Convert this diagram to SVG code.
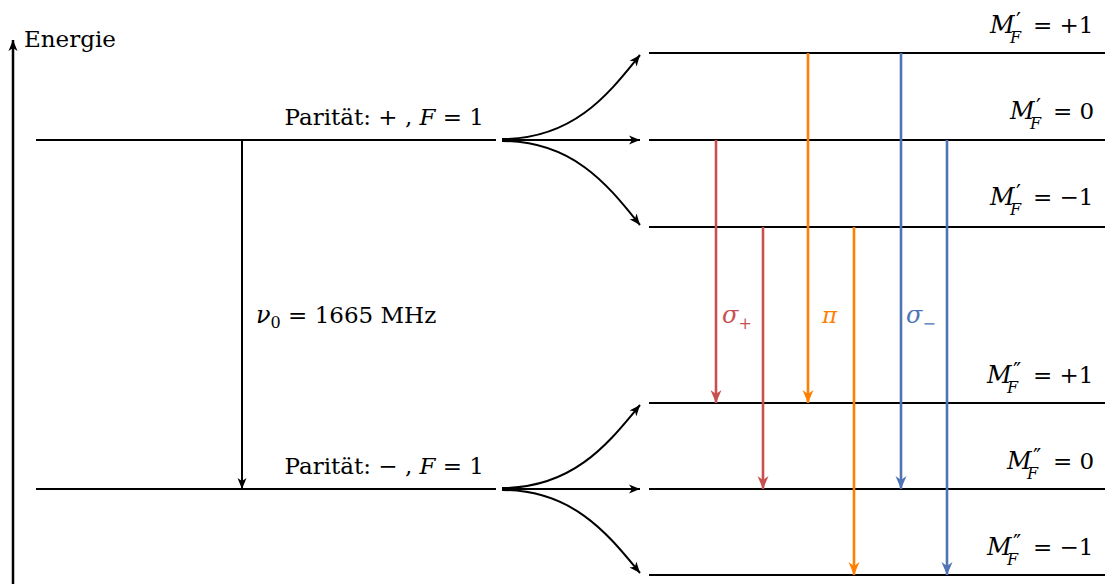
<svg xmlns="http://www.w3.org/2000/svg" width="1105" height="584" viewBox="0 0 1105 584">
<style>
text{font-family:"DejaVu Serif","Liberation Serif",serif;font-size:23px;fill:#000}
.it{font-style:italic}
.m{font-style:italic;font-size:24px}
.sub{font-style:italic;font-size:16px}
.pr{font-family:"DejaVu Sans",sans-serif;font-size:22px}
.lvl{stroke:#000;stroke-width:2;fill:none}
.con{stroke:#000;stroke-width:2;fill:none}
.red{stroke:#c8504f;stroke-width:2.6;fill:none}
.ora{stroke:#ff8000;stroke-width:2.6;fill:none}
.blu{stroke:#4f74b4;stroke-width:2.6;fill:none}
</style>
<defs>
<marker id="ak" markerUnits="userSpaceOnUse" markerWidth="13" markerHeight="12" viewBox="-12 -6 13 12" refX="0" refY="0" orient="auto"><path d="M0,0 L-11,-4.5 L-8,0 L-11,4.5 Z" fill="#000"/></marker>
<marker id="ar" markerUnits="userSpaceOnUse" markerWidth="15" markerHeight="14" viewBox="-14 -7 15 14" refX="0" refY="0" orient="auto"><path d="M0,0 L-13,-5.5 L-9,0 L-13,5.5 Z" fill="#c8504f"/></marker>
<marker id="ao" markerUnits="userSpaceOnUse" markerWidth="15" markerHeight="14" viewBox="-14 -7 15 14" refX="0" refY="0" orient="auto"><path d="M0,0 L-13,-5.5 L-9,0 L-13,5.5 Z" fill="#ff8000"/></marker>
<marker id="ab" markerUnits="userSpaceOnUse" markerWidth="15" markerHeight="14" viewBox="-14 -7 15 14" refX="0" refY="0" orient="auto"><path d="M0,0 L-13,-5.5 L-9,0 L-13,5.5 Z" fill="#4f74b4"/></marker>
</defs>

<g id="axis">
<line x1="13" y1="584" x2="13" y2="40" stroke="#000" stroke-width="2.5" marker-end="url(#ak)"/>
<text x="24" y="47">Energie</text>
</g>

<g id="upper-level">
<line class="lvl" x1="36" y1="140" x2="496" y2="140"/>
<text x="484" y="125" text-anchor="end">Parität: + , <tspan class="it">F</tspan> = 1</text>
</g>
<g id="lower-level">
<line class="lvl" x1="36" y1="489" x2="496" y2="489"/>
<text x="484" y="474" text-anchor="end">Parität: − , <tspan class="it">F</tspan> = 1</text>
</g>

<g id="mu-p1"><line class="lvl" x1="649" y1="53" x2="1105" y2="53"/>
<text><tspan class="m" x="990" y="33">M</tspan><tspan class="pr" x="1016" y="28">′</tspan><tspan class="sub" x="1010" y="43">F</tspan><tspan x="1033" y="33">= +1</tspan></text></g>
<g id="mu-0"><line class="lvl" x1="649" y1="140" x2="1105" y2="140"/>
<text><tspan class="m" x="1010" y="119">M</tspan><tspan class="pr" x="1036" y="114">′</tspan><tspan class="sub" x="1030" y="129">F</tspan><tspan x="1053" y="119">= 0</tspan></text></g>
<g id="mu-m1"><line class="lvl" x1="649" y1="227" x2="1105" y2="227"/>
<text><tspan class="m" x="990" y="205">M</tspan><tspan class="pr" x="1016" y="200">′</tspan><tspan class="sub" x="1010" y="215">F</tspan><tspan x="1033" y="205">= −1</tspan></text></g>
<g id="ml-p1"><line class="lvl" x1="649" y1="403" x2="1105" y2="403"/>
<text><tspan class="m" x="987" y="383">M</tspan><tspan class="pr" x="1013" y="378">″</tspan><tspan class="sub" x="1007" y="393">F</tspan><tspan x="1033" y="383">= +1</tspan></text></g>
<g id="ml-0"><line class="lvl" x1="649" y1="489" x2="1105" y2="489"/>
<text><tspan class="m" x="1007" y="469">M</tspan><tspan class="pr" x="1033" y="464">″</tspan><tspan class="sub" x="1027" y="479">F</tspan><tspan x="1053" y="469">= 0</tspan></text></g>
<g id="ml-m1"><line class="lvl" x1="649" y1="575" x2="1105" y2="575"/>
<text><tspan class="m" x="987" y="555">M</tspan><tspan class="pr" x="1013" y="550">″</tspan><tspan class="sub" x="1007" y="565">F</tspan><tspan x="1033" y="555">= −1</tspan></text></g>

<g id="connectors">
<path class="con" d="M502,139 C575,139 610,92 640,55" marker-end="url(#ak)"/>
<path class="con" d="M502,140 L640,140" marker-end="url(#ak)"/>
<path class="con" d="M502,141 C575,141 610,188 640,225" marker-end="url(#ak)"/>
<path class="con" d="M502,488 C575,488 610,441 640,405" marker-end="url(#ak)"/>
<path class="con" d="M502,489 L640,489" marker-end="url(#ak)"/>
<path class="con" d="M502,490 C575,490 610,537 640,573" marker-end="url(#ak)"/>
<line class="con" x1="242" y1="140" x2="242" y2="489" marker-end="url(#ak)"/>
<line class="red" x1="716" y1="140" x2="716" y2="403" marker-end="url(#ar)"/>
<line class="red" x1="763" y1="227" x2="763" y2="489" marker-end="url(#ar)"/>
<line class="ora" x1="808" y1="53" x2="808" y2="403" marker-end="url(#ao)"/>
<line class="ora" x1="854" y1="227" x2="854" y2="575" marker-end="url(#ao)"/>
<line class="blu" x1="901" y1="53" x2="901" y2="489" marker-end="url(#ab)"/>
<line class="blu" x1="947" y1="140" x2="947" y2="575" marker-end="url(#ab)"/>
</g>

<g id="labels">
<text x="256" y="323"><tspan class="it" font-size="24">ν</tspan><tspan font-size="16" dy="5">0</tspan><tspan dy="-5"> = 1665 MHz</tspan></text>
<text x="722" y="323" style="fill:#c8504f"><tspan class="it" font-size="24">σ</tspan><tspan font-size="16" dy="6">+</tspan></text>
<text x="822" y="323" style="fill:#ff8000" class="it" font-size="24">π</text>
<text x="906" y="323" style="fill:#4f74b4"><tspan class="it" font-size="24">σ</tspan><tspan font-size="16" dy="6">−</tspan></text>
</g>
</svg>
